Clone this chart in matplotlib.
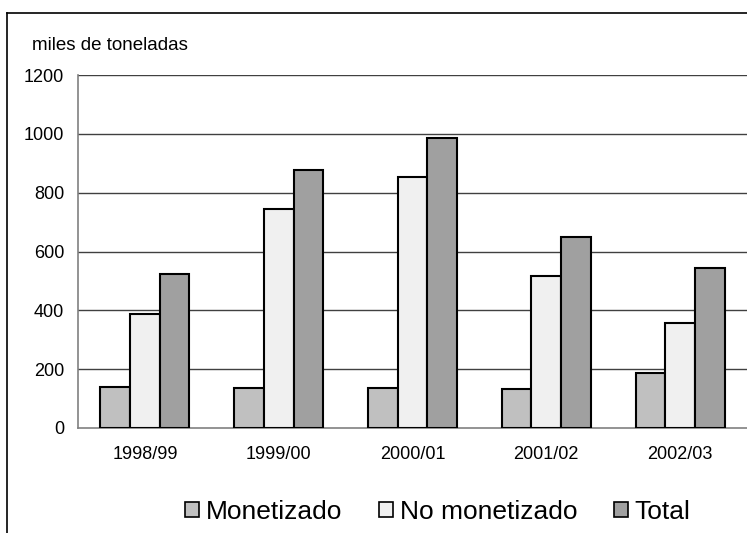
import matplotlib
matplotlib.use("Agg")
import matplotlib.pyplot as plt
import numpy as np
from matplotlib.lines import Line2D
from matplotlib.patches import Patch

plt.rcParams['font.family'] = ['Liberation Sans', 'DejaVu Sans']

categories = ["1998/99", "1999/00", "2000/01", "2001/02", "2002/03"]
monetizado = [140, 135, 135, 133, 188]
no_monetizado = [388, 745, 854, 517, 358]
total = [524, 877, 986, 650, 545]
series_names = ["Monetizado", "No monetizado", "Total"]
colors = ["#C0C0C0", "#F0F0F0", "#A0A0A0"]
yticks = [0, 200, 400, 600, 800, 1000, 1200]

fig = plt.figure(figsize=(7.47, 5.33), dpi=100)
ax = fig.add_axes([78/747, 1-428/533, 1-78/747, (428-75)/533])

x = np.arange(len(categories))
w = 0.222
for i, (vals, c) in enumerate(zip([monetizado, no_monetizado, total], colors)):
    ax.bar(x + (i-1)*w, vals, width=w, color=c, edgecolor='black', linewidth=1.5, zorder=3)

ax.set_xlim(-0.5, len(categories)-0.5)
ax.set_ylim(0, 1200)
ax.set_yticks(yticks)
ax.set_yticklabels([str(v) for v in yticks], fontsize=13)
ax.set_xticks(x)
ax.set_xticklabels(categories, fontsize=13)
ax.tick_params(axis='both', length=0)
ax.tick_params(axis='y', pad=10)
ax.tick_params(axis='x', pad=13)
for yv in yticks[1:]:
    ax.axhline(yv, color='#404040', linewidth=1, zorder=1)
for s in ['top', 'right']:
    ax.spines[s].set_visible(False)
for s in ['left', 'bottom']:
    ax.spines[s].set_color('#808080')
    ax.spines[s].set_linewidth(1.2)

fig.text(32/747, 1-46/533, "miles de toneladas", fontsize=13.5, ha='left', va='center')

# outer frame (top and left)
fig.add_artist(Line2D([7/747, 7/747], [0, 1-13/533], color='black', linewidth=1.2, transform=fig.transFigure))
fig.add_artist(Line2D([7/747, 1], [1-13/533, 1-13/533], color='black', linewidth=1.2, transform=fig.transFigure))

handles = [Patch(facecolor=c, edgecolor='black', linewidth=1.2) for c in colors]
fig.legend(handles, series_names, loc='center', bbox_to_anchor=(438/747, 1-512/533), ncol=3,
           frameon=False, fontsize=19, handlelength=0.53, handleheight=0.53, handletextpad=0.25,
           columnspacing=1.4)

fig.savefig("out.png", dpi=100)
